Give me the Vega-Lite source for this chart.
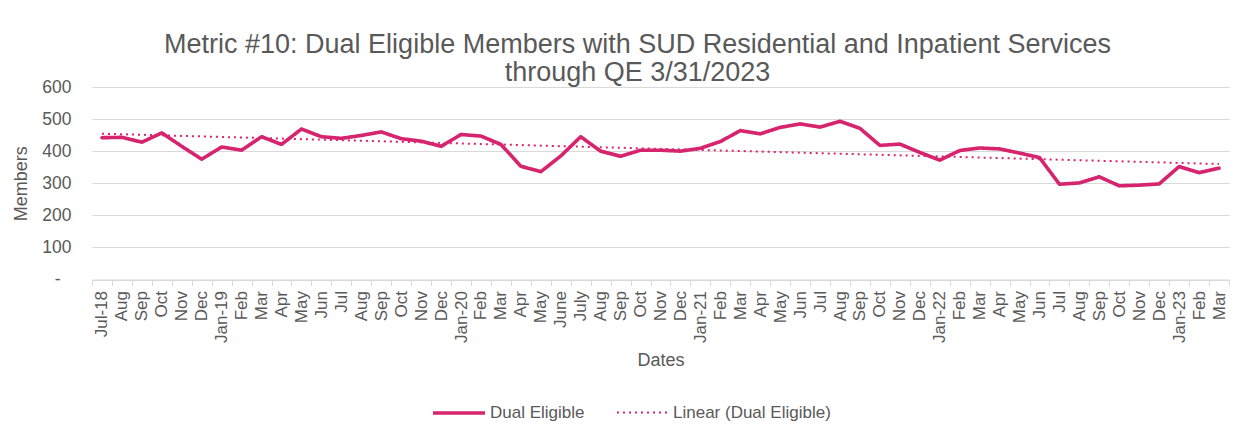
{
  "$schema": "https://vega.github.io/schema/vega-lite/v6.json",
  "width": 1137,
  "height": 192.5,
  "autosize": {"type": "none"},
  "padding": {"left": 92, "top": 87, "right": 22, "bottom": 156.5},
  "background": "white",
  "config": {
    "font": "Liberation Sans",
    "view": {"stroke": null}
  },
  "title": {
    "text": ["Metric #10: Dual Eligible Members with SUD Residential and Inpatient Services", "through QE 3/31/2023"],
    "fontSize": 27,
    "fontWeight": "normal",
    "color": "#595959",
    "lineHeight": 28,
    "anchor": "middle",
    "dx": -23,
    "offset": -9
  },
  "data": {
    "values": [
      {"Month": "2018-07-01", "Members": 442},
      {"Month": "2018-08-01", "Members": 443},
      {"Month": "2018-09-01", "Members": 428},
      {"Month": "2018-10-01", "Members": 457},
      {"Month": "2018-11-01", "Members": 415},
      {"Month": "2018-12-01", "Members": 375},
      {"Month": "2019-01-01", "Members": 413},
      {"Month": "2019-02-01", "Members": 403},
      {"Month": "2019-03-01", "Members": 445},
      {"Month": "2019-04-01", "Members": 421},
      {"Month": "2019-05-01", "Members": 469},
      {"Month": "2019-06-01", "Members": 445},
      {"Month": "2019-07-01", "Members": 440},
      {"Month": "2019-08-01", "Members": 449},
      {"Month": "2019-09-01", "Members": 460},
      {"Month": "2019-10-01", "Members": 439},
      {"Month": "2019-11-01", "Members": 431},
      {"Month": "2019-12-01", "Members": 415},
      {"Month": "2020-01-01", "Members": 452},
      {"Month": "2020-02-01", "Members": 447},
      {"Month": "2020-03-01", "Members": 421},
      {"Month": "2020-04-01", "Members": 353},
      {"Month": "2020-05-01", "Members": 336},
      {"Month": "2020-06-01", "Members": 385},
      {"Month": "2020-07-01", "Members": 445},
      {"Month": "2020-08-01", "Members": 400},
      {"Month": "2020-09-01", "Members": 384},
      {"Month": "2020-10-01", "Members": 403},
      {"Month": "2020-11-01", "Members": 403},
      {"Month": "2020-12-01", "Members": 400},
      {"Month": "2021-01-01", "Members": 409},
      {"Month": "2021-02-01", "Members": 430},
      {"Month": "2021-03-01", "Members": 464},
      {"Month": "2021-04-01", "Members": 454},
      {"Month": "2021-05-01", "Members": 474},
      {"Month": "2021-06-01", "Members": 485},
      {"Month": "2021-07-01", "Members": 475},
      {"Month": "2021-08-01", "Members": 493},
      {"Month": "2021-09-01", "Members": 471},
      {"Month": "2021-10-01", "Members": 418},
      {"Month": "2021-11-01", "Members": 422},
      {"Month": "2021-12-01", "Members": 396},
      {"Month": "2022-01-01", "Members": 372},
      {"Month": "2022-02-01", "Members": 402},
      {"Month": "2022-03-01", "Members": 410},
      {"Month": "2022-04-01", "Members": 407},
      {"Month": "2022-05-01", "Members": 394},
      {"Month": "2022-06-01", "Members": 380},
      {"Month": "2022-07-01", "Members": 297},
      {"Month": "2022-08-01", "Members": 301},
      {"Month": "2022-09-01", "Members": 320},
      {"Month": "2022-10-01", "Members": 292},
      {"Month": "2022-11-01", "Members": 294},
      {"Month": "2022-12-01", "Members": 298},
      {"Month": "2023-01-01", "Members": 352},
      {"Month": "2023-02-01", "Members": 333},
      {"Month": "2023-03-01", "Members": 347}
    ]
  },
  "encoding": {
    "y": {
      "field": "Members",
      "type": "quantitative",
      "scale": {"domain": [0, 600], "nice": false},
      "axis": {
        "title": "Members",
        "titleFontSize": 18,
        "titleFontWeight": "normal",
        "titleColor": "#595959",
        "titlePadding": 11,
        "values": [0, 100, 200, 300, 400, 500, 600],
        "labelOverlap": false,
        "labelExpr": "datum.value == 0 ? '-' : datum.label",
        "labelFontSize": 17.5,
        "labelColor": "#595959",
        "labelPadding": {"condition": {"test": "datum.value == 0", "value": 32}, "value": 21},
        "domain": false,
        "ticks": false,
        "gridColor": "#d9d9d9",
        "gridWidth": 1
      }
    }
  },
  "layer": [
    {
      "mark": {"type": "line", "strokeCap": "round", "strokeJoin": "round"},
      "encoding": {
        "x": {
          "field": "Month",
          "type": "ordinal",
          "timeUnit": "utcyearmonth",
          "bandPosition": 0.5,
          "scale": {"type": "band", "paddingInner": 0, "paddingOuter": 0},
          "axis": {
            "title": "Dates",
            "titleFontSize": 18,
            "titleFontWeight": "normal",
            "titleColor": "#595959",
            "titlePadding": 9,
            "labelAngle": -90,
            "labelFontSize": 17,
            "labelColor": "#595959",
            "labelPadding": 5,
            "labelOverlap": false,
            "labelExpr": "datum.index == 0 || utcmonth(datum.value) == 0 ? utcFormat(datum.value, '%b-%y') : (utcyear(datum.value) == 2020 && utcmonth(datum.value) == 5 ? 'June' : (utcyear(datum.value) == 2020 && utcmonth(datum.value) == 6 ? 'July' : utcFormat(datum.value, '%b')))",
            "tickBand": "extent",
            "tickSize": 6,
            "tickColor": "#d9d9d9",
            "domainColor": "#d9d9d9",
            "grid": false
          }
        },
        "color": {"datum": "Dual Eligible", "type": "nominal", "title": null,
          "scale": {"domain": ["Dual Eligible", "Linear (Dual Eligible)"], "range": ["#d6246f", "#d6246f"]},
          "legend": {"orient": "none", "legendX": 339, "legendY": 298, "direction": "horizontal", "labelFontSize": 17, "labelColor": "#595959", "symbolType": "stroke", "symbolSize": 2704, "columnPadding": 28, "labelOffset": 3}},
        "strokeDash": {"datum": "Dual Eligible", "type": "nominal", "title": null,
          "scale": {"domain": ["Dual Eligible", "Linear (Dual Eligible)"], "range": [[1, 0], [2, 4]]}},
        "strokeWidth": {"datum": "Dual Eligible", "type": "nominal", "title": null,
          "scale": {"domain": ["Dual Eligible", "Linear (Dual Eligible)"], "range": [3.6, 2]}}
      }
    },
    {
      "transform": [
        {"window": [{"op": "row_number", "as": "n"}]},
        {"regression": "Members", "on": "n", "method": "linear"}
      ],
      "mark": {"type": "line"},
      "encoding": {
        "x": {"field": "n", "type": "quantitative", "scale": {"domain": [0.5, 57.5], "nice": false, "zero": false}, "axis": null},
        "color": {"datum": "Linear (Dual Eligible)", "type": "nominal"},
        "strokeDash": {"datum": "Linear (Dual Eligible)", "type": "nominal"},
        "strokeWidth": {"datum": "Linear (Dual Eligible)", "type": "nominal"}
      }
    }
  ],
  "resolve": {"scale": {"x": "independent"}}
}
